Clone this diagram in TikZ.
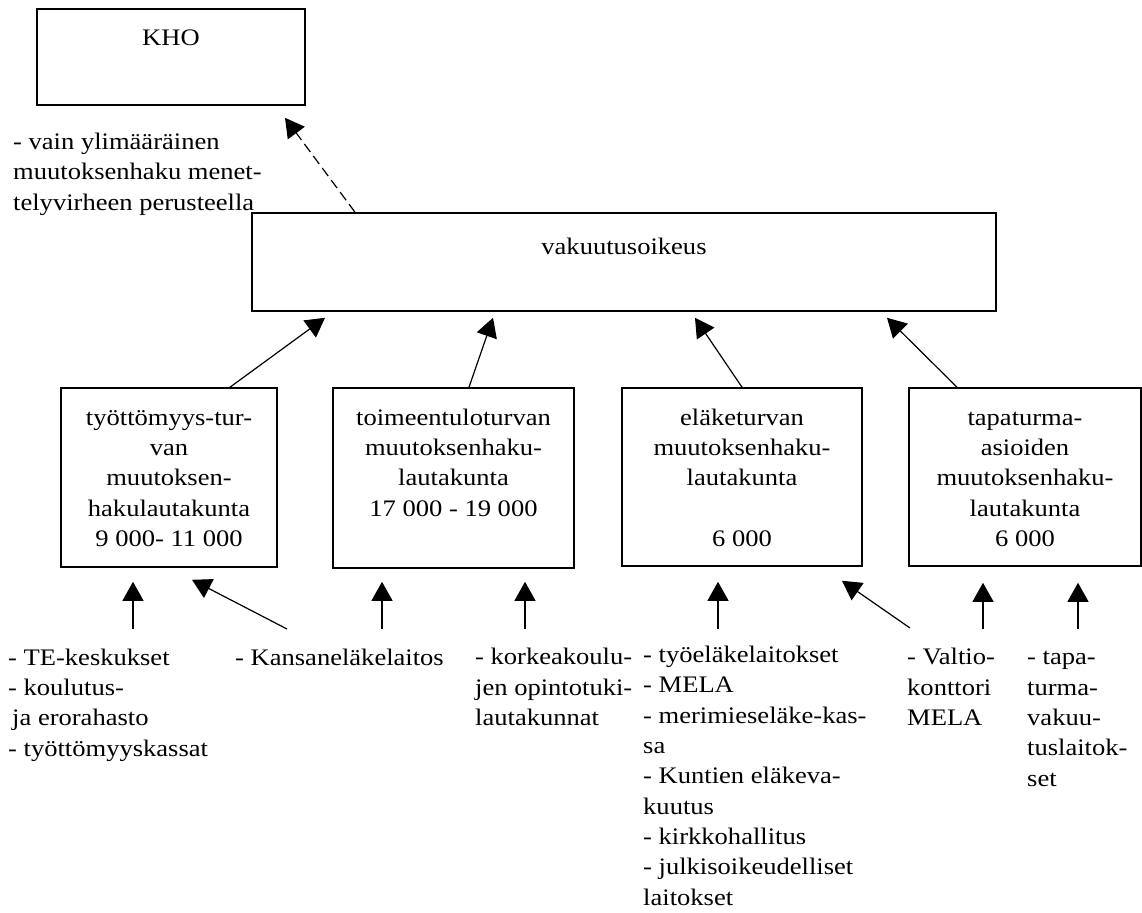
\documentclass[tikz,border=0pt]{standalone}
\usepackage{fontspec}
\setmainfont{Liberation Serif}[FakeStretch=1.12]
\usetikzlibrary{arrows.meta}
\begin{document}
\begin{tikzpicture}[x=1pt,y=-1pt,
  txt/.style={font=\fontsize{23.7}{30.3}\selectfont, inner sep=0pt},
  % multi-line nodes are placed by the baseline of their last line
  lbl/.style={txt, align=left, anchor=base west},
  ctr/.style={txt, align=center, anchor=base},
  frame/.style={draw, line width=1.6pt, inner sep=0pt},
  link/.style={line width=1.2pt, -{Triangle[length=19pt,width=21pt]}},
  weak/.style={link, dash pattern=on 10pt off 5pt}
]
\useasboundingbox (0,0) rectangle (1142,912);

% courts
\node[frame, minimum width=268pt, minimum height=96pt] (kho) at (171,57) {};
\node[ctr] (khot) at (171,46) {KHO};
\node[frame, minimum width=744pt, minimum height=98pt] (vak) at (624,262) {};
\node[ctr] (vakt) at (624,254) {vakuutusoikeus};

\node[lbl, txt/.append style={font=\fontsize{23.7}{29}\selectfont}] (note) at (13,210) {- vain ylimääräinen\\muutoksenhaku menet-\\telyvirheen perusteella};

% appeal boards
\node[frame, minimum width=216pt, minimum height=179pt] (b1) at (169,477.5) {};
\node[frame, minimum width=241pt, minimum height=180pt] (b2) at (453.5,478) {};
\node[frame, minimum width=240pt, minimum height=178pt] (b3) at (742,477) {};
\node[frame, minimum width=232pt, minimum height=178pt] (b4) at (1025,477) {};

\node[ctr] (b1t) at (169,546.5) {työttömyys-tur-\\van\\muutoksen-\\hakulautakunta\\9 000- 11 000};
\node[ctr] (b2t) at (453.5,516) {toimeentuloturvan\\muutoksenhaku-\\lautakunta\\17 000 - 19 000};
\node[ctr] (b3t) at (742,546.5) {eläketurvan\\muutoksenhaku-\\lautakunta\\\mbox{}\\6 000};
\node[ctr] (b4t) at (1025,546.5) {tapaturma-\\asioiden\\muutoksenhaku-\\lautakunta\\6 000};

% first-instance bodies
\node[lbl] (s1) at (8,756) {- TE-keskukset\\- koulutus-\\\hspace*{4pt}ja erorahasto\\- työttömyyskassat};
\node[lbl] (s2) at (235,665) {- Kansaneläkelaitos};
\node[lbl] (s3) at (475,725.5) {- korkeakoulu-\\jen opintotuki-\\lautakunnat};
\node[lbl] (s4) at (643,905) {- työeläkelaitokset\\- MELA\\- merimieseläke-kas-\\sa\\- Kuntien eläkeva-\\kuutus\\- kirkkohallitus\\- julkisoikeudelliset\\laitokset};
\node[lbl] (s5) at (907,725.5) {- Valtio-\\konttori\\MELA};
\node[lbl] (s6) at (1027,786) {- tapa-\\turma-\\vakuu-\\tuslaitok-\\set};

% arrow tails below the boards
\coordinate (t1) at (133,629);
\coordinate (t2) at (287,629);
\coordinate (t3) at (382,629);
\coordinate (t4) at (525,629);
\coordinate (t5) at (718,629);
\coordinate (t6) at (910,628);
\coordinate (t7) at (983,629);
\coordinate (t8) at (1078,629);

% appeals upward
\draw[weak] ([xshift=-269pt]vak.north) -- ([xshift=114pt,yshift=-12pt]kho.south);
\draw[link] ([xshift=61pt]b1.north) -- ([xshift=-299pt,yshift=-6pt]vak.south);
\draw[link] ([xshift=15.5pt]b2.north) -- ([xshift=-131pt,yshift=-6pt]vak.south);
\draw[link] (b3.north) -- ([xshift=71pt,yshift=-6pt]vak.south);
\draw[link] ([xshift=-68pt]b4.north) -- ([xshift=263pt,yshift=-6pt]vak.south);

\draw[link] (t1) -- ([xshift=-36pt,yshift=-14pt]b1.south);
\draw[link] (t2) -- ([xshift=23pt,yshift=-12pt]b1.south);
\draw[link] (t3) -- ([xshift=-71.5pt,yshift=-13pt]b2.south);
\draw[link] (t4) -- ([xshift=71.5pt,yshift=-13pt]b2.south);
\draw[link] (t5) -- ([xshift=-24pt,yshift=-15pt]b3.south);
\draw[link] (t6) -- ([xshift=100pt,yshift=-14pt]b3.south);
\draw[link] (t7) -- ([xshift=-42pt,yshift=-16pt]b4.south);
\draw[link] (t8) -- ([xshift=53pt,yshift=-16pt]b4.south);
\end{tikzpicture}
\end{document}
